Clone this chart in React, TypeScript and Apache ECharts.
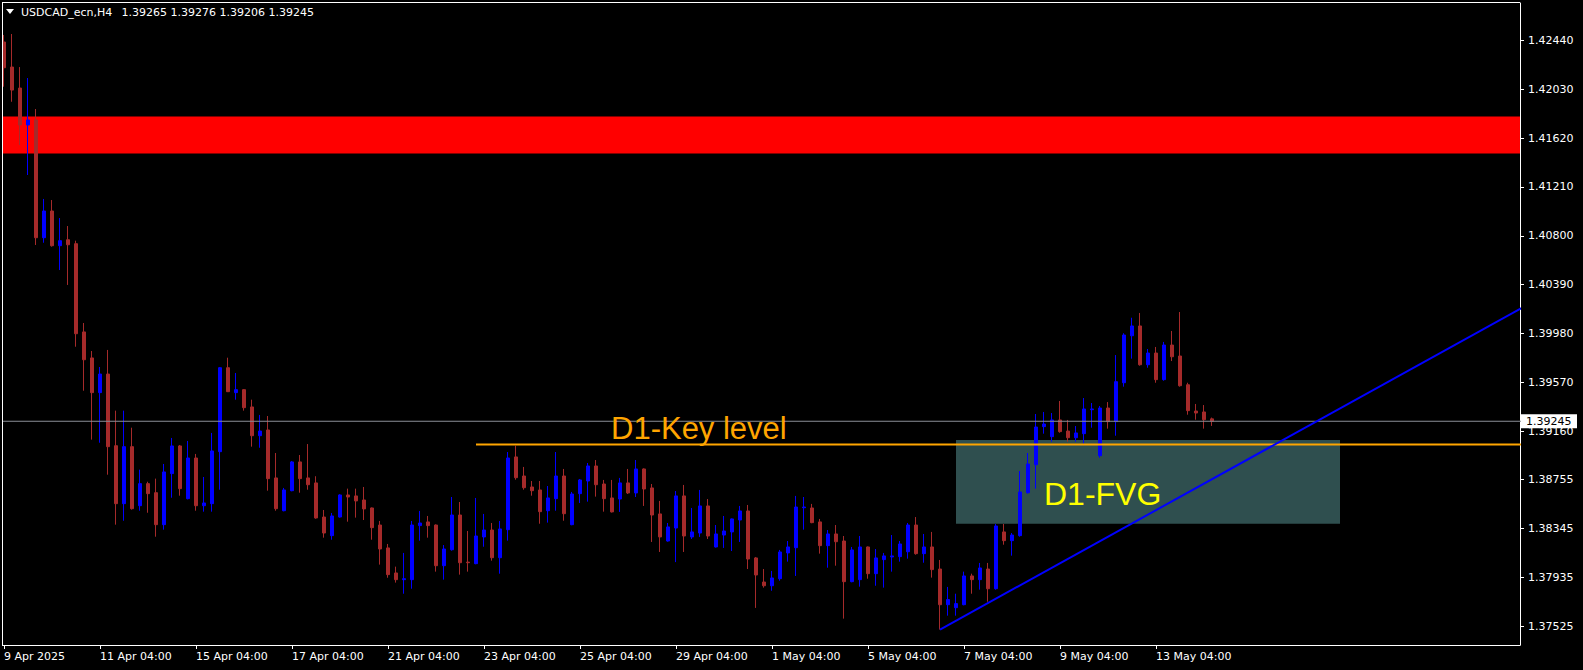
import React, { useEffect, useRef } from "react";
import * as echarts from "echarts";

const tradingDays = [
  "9 Apr", "10 Apr", "11 Apr", "14 Apr", "15 Apr", "16 Apr", "17 Apr", "18 Apr",
  "21 Apr", "22 Apr", "23 Apr", "24 Apr", "25 Apr", "28 Apr", "29 Apr", "30 Apr",
  "1 May", "2 May", "5 May", "6 May", "7 May", "8 May", "9 May", "12 May",
  "13 May", "14 May", "15 May", "16 May", "19 May", "20 May", "21 May", "22 May",
];
const hours = ["00:00", "04:00", "08:00", "12:00", "16:00", "20:00"];
const firstLabel = "9 Apr 2025";

// [open, high, low, close]
const bars: number[][] = [
  [1.42425, 1.42484, 1.4205, 1.42209],
  [1.42215, 1.42492, 1.41924, 1.42022],
  [1.42039, 1.42215, 1.41561, 1.41729],
  [1.41729, 1.42123, 1.4131, 1.41771],
  [1.41771, 1.41863, 1.40723, 1.40784],
  [1.40784, 1.41109, 1.40742, 1.41008],
  [1.41008, 1.411, 1.40709, 1.40717],
  [1.40717, 1.40949, 1.40513, 1.40759],
  [1.40767, 1.40882, 1.40388, 1.40725],
  [1.40734, 1.40759, 1.3987, 1.39979],
  [1.39994, 1.40069, 1.39501, 1.39761],
  [1.39776, 1.39834, 1.39091, 1.39485],
  [1.39485, 1.397, 1.39065, 1.39641],
  [1.39641, 1.39843, 1.38797, 1.39032],
  [1.3904, 1.39334, 1.38378, 1.38554],
  [1.38554, 1.39334, 1.38411, 1.39032],
  [1.39032, 1.39191, 1.38504, 1.38512],
  [1.38537, 1.38839, 1.38495, 1.38722],
  [1.38722, 1.38738, 1.38478, 1.38638],
  [1.38646, 1.38764, 1.38277, 1.38378],
  [1.38378, 1.38887, 1.38336, 1.3882],
  [1.38806, 1.39105, 1.38604, 1.39038],
  [1.39038, 1.39046, 1.38621, 1.3868],
  [1.38596, 1.3908, 1.3859, 1.38937],
  [1.38937, 1.38971, 1.38495, 1.38537],
  [1.38537, 1.38778, 1.38487, 1.3856],
  [1.38554, 1.39147, 1.38487, 1.38996],
  [1.3899, 1.397, 1.38671, 1.39694],
  [1.39694, 1.39778, 1.3949, 1.39493],
  [1.39485, 1.3965, 1.39426, 1.3951],
  [1.3951, 1.39515, 1.39334, 1.39359],
  [1.39365, 1.39426, 1.39032, 1.39124],
  [1.39124, 1.39298, 1.39023, 1.39163],
  [1.39172, 1.39289, 1.38663, 1.38764],
  [1.3877, 1.38979, 1.38495, 1.38512],
  [1.38495, 1.38686, 1.3849, 1.38669],
  [1.38663, 1.38912, 1.38658, 1.38904],
  [1.38904, 1.38962, 1.38646, 1.38764],
  [1.3877, 1.39054, 1.38671, 1.38713],
  [1.38728, 1.38784, 1.38428, 1.38434],
  [1.38442, 1.38501, 1.38269, 1.38308],
  [1.38286, 1.38476, 1.38252, 1.38451],
  [1.38442, 1.38633, 1.38437, 1.38627],
  [1.38627, 1.3868, 1.38403, 1.3861],
  [1.38619, 1.3868, 1.38437, 1.38577],
  [1.38585, 1.38694, 1.38417, 1.3851],
  [1.38518, 1.38522, 1.38252, 1.38353],
  [1.38375, 1.38409, 1.38043, 1.38174],
  [1.38183, 1.38216, 1.37933, 1.37959],
  [1.37973, 1.38026, 1.37892, 1.37917],
  [1.37917, 1.38141, 1.37799, 1.37925],
  [1.37917, 1.38409, 1.37841, 1.38375],
  [1.3837, 1.38493, 1.38244, 1.38392],
  [1.38401, 1.38451, 1.38269, 1.3837],
  [1.38375, 1.3838, 1.37984, 1.38034],
  [1.38034, 1.38207, 1.37917, 1.38174],
  [1.38168, 1.3861, 1.3816, 1.38459],
  [1.38459, 1.38568, 1.37959, 1.38059],
  [1.38064, 1.38325, 1.37984, 1.38059],
  [1.38051, 1.38602, 1.38046, 1.38283],
  [1.38275, 1.38468, 1.38193, 1.38333],
  [1.38333, 1.38392, 1.38076, 1.38101],
  [1.38101, 1.38409, 1.37967, 1.38342],
  [1.38336, 1.38987, 1.38244, 1.38937],
  [1.38946, 1.3904, 1.38755, 1.38772],
  [1.38786, 1.38862, 1.38671, 1.38688],
  [1.38694, 1.38744, 1.38621, 1.38663],
  [1.38669, 1.38744, 1.38386, 1.38487],
  [1.38495, 1.38702, 1.38395, 1.38602],
  [1.38596, 1.38987, 1.38495, 1.38786],
  [1.38786, 1.38845, 1.38411, 1.3847],
  [1.38378, 1.38652, 1.38373, 1.38635],
  [1.38638, 1.38761, 1.3856, 1.38753],
  [1.38744, 1.38895, 1.38571, 1.3887],
  [1.3887, 1.3892, 1.38613, 1.38713],
  [1.38719, 1.38753, 1.38487, 1.38596],
  [1.38602, 1.38753, 1.3848, 1.38485],
  [1.38593, 1.3877, 1.38485, 1.38728],
  [1.38728, 1.38845, 1.38635, 1.38644],
  [1.38644, 1.3892, 1.3861, 1.38845],
  [1.38845, 1.3885, 1.38535, 1.38677],
  [1.38686, 1.38719, 1.38233, 1.38459],
  [1.38468, 1.38577, 1.38149, 1.38275],
  [1.38241, 1.38392, 1.38236, 1.38359],
  [1.3835, 1.3866, 1.38064, 1.38619],
  [1.38619, 1.38711, 1.38149, 1.38283],
  [1.38275, 1.38518, 1.38258, 1.38317],
  [1.38308, 1.38669, 1.38275, 1.38535],
  [1.38535, 1.38593, 1.38258, 1.38283],
  [1.38191, 1.38375, 1.38186, 1.383],
  [1.38291, 1.38451, 1.38183, 1.38325],
  [1.38317, 1.3843, 1.38157, 1.38426],
  [1.38417, 1.38535, 1.38233, 1.38493],
  [1.38493, 1.38543, 1.38006, 1.3809],
  [1.38099, 1.38107, 1.3768, 1.37956],
  [1.37897, 1.38006, 1.3785, 1.37866],
  [1.37866, 1.3799, 1.37824, 1.37931],
  [1.37925, 1.38166, 1.37908, 1.38149],
  [1.38141, 1.38241, 1.38068, 1.38191],
  [1.38185, 1.38619, 1.37948, 1.38526],
  [1.3852, 1.3861, 1.38336, 1.38526],
  [1.38518, 1.38552, 1.3839, 1.38395],
  [1.38401, 1.38426, 1.38135, 1.38202],
  [1.38202, 1.38333, 1.38017, 1.383],
  [1.383, 1.38375, 1.38034, 1.38235],
  [1.38241, 1.38283, 1.3759, 1.379],
  [1.379, 1.38191, 1.37895, 1.38166],
  [1.37917, 1.38283, 1.37858, 1.38191],
  [1.38191, 1.38195, 1.37925, 1.37967],
  [1.37967, 1.38174, 1.37866, 1.38099],
  [1.38085, 1.38141, 1.3785, 1.38116],
  [1.38107, 1.38291, 1.37984, 1.38116],
  [1.3811, 1.38241, 1.38068, 1.38216],
  [1.38151, 1.38392, 1.38093, 1.38375],
  [1.38375, 1.38442, 1.38126, 1.38135],
  [1.38135, 1.383, 1.38059, 1.38191],
  [1.38191, 1.38317, 1.37934, 1.38001],
  [1.38006, 1.38082, 1.37498, 1.37707],
  [1.37707, 1.37856, 1.37615, 1.3775],
  [1.37682, 1.37799, 1.37615, 1.37716],
  [1.37707, 1.37984, 1.37702, 1.37948],
  [1.37948, 1.37967, 1.37799, 1.37917],
  [1.37917, 1.38057, 1.37833, 1.38015],
  [1.38006, 1.38057, 1.37732, 1.37841],
  [1.37841, 1.38384, 1.37833, 1.38367],
  [1.38317, 1.38384, 1.3821, 1.38244],
  [1.38244, 1.38308, 1.38118, 1.38291],
  [1.38286, 1.38828, 1.38277, 1.38652],
  [1.38646, 1.38979, 1.38638, 1.38887],
  [1.38881, 1.39306, 1.3868, 1.39197],
  [1.392, 1.39323, 1.39141, 1.39222],
  [1.39116, 1.39314, 1.39074, 1.39256],
  [1.39256, 1.39415, 1.39149, 1.39158],
  [1.39163, 1.39256, 1.39074, 1.39107],
  [1.39107, 1.39205, 1.39074, 1.39147],
  [1.39141, 1.3944, 1.39057, 1.39348],
  [1.39342, 1.39398, 1.39191, 1.39348],
  [1.38956, 1.39373, 1.3894, 1.39356],
  [1.39356, 1.39406, 1.39183, 1.39242],
  [1.39242, 1.398, 1.39124, 1.39577],
  [1.39568, 1.39983, 1.39535, 1.39968],
  [1.39962, 1.40113, 1.3977, 1.40044],
  [1.40044, 1.40153, 1.39711, 1.39719],
  [1.39719, 1.39851, 1.39694, 1.39817],
  [1.39817, 1.39868, 1.39568, 1.39594],
  [1.39594, 1.3991, 1.39585, 1.39884],
  [1.39884, 1.40002, 1.3975, 1.39786],
  [1.39792, 1.40161, 1.39535, 1.39543],
  [1.39551, 1.39568, 1.393, 1.39334],
  [1.39331, 1.3939, 1.39258, 1.39314],
  [1.39323, 1.39381, 1.39183, 1.39258],
  [1.39265, 1.39276, 1.39206, 1.39245],
];

const priceTicks = [
  1.37525, 1.37935, 1.38345, 1.38755, 1.3916, 1.3957, 1.3998,
  1.4039, 1.408, 1.4121, 1.4162, 1.4203, 1.4244,
];
const priceMin = 1.37369;
const priceMax = 1.42752;
const bidPrice = 1.39245;
const headerSymbol = "USDCAD_ecn,H4";
const headerValues = "1.39265 1.39276 1.39206 1.39245";

const redZone = [1.418, 1.4149];
const keyLevelPrice = 1.3905;
const keyLevelStart = 59;
const keyLevelLabel = "D1-Key level";
const keyLevelLabelAt = [76, 1.39185];
const fvgFrom = 119;
const fvgTo = 167;
const fvgTop = 1.39088;
const fvgBottom = 1.38386;
const fvgLabel = "D1-FVG";
const fvgLabelAt = [129.5, 1.38638];
const trendStart = [117, 1.37498];
const trendEnd = [190, 1.40206];

const TOTAL_SLOTS = 190;
const FONT = "DejaVu Sans";

export default function App() {
  const ref = useRef<HTMLDivElement>(null);

  useEffect(() => {
    if (!ref.current) return;
    document.body.style.margin = "0";
    document.body.style.background = "#000";
    const chart = echarts.init(ref.current, undefined, { renderer: "svg" });

    const all: string[] = [];
    tradingDays.forEach((d) => hours.forEach((h) => all.push(`${d} ${h}`)));
    const categories = all.slice(1, 1 + TOTAL_SLOTS);
    const showIdx = (i: number) => i % 12 === 0 && i < bars.length;

    chart.setOption({
      animation: false,
      backgroundColor: "#000000",
      grid: { left: 0, top: 3, width: TOTAL_SLOTS * 8, height: 642, containLabel: false },
      xAxis: {
        type: "category",
        data: categories,
        boundaryGap: true,
        axisLine: { show: true, lineStyle: { color: "#ffffff", width: 1 } },
        axisTick: {
          show: true,
          alignWithLabel: true,
          interval: (i: number) => showIdx(i),
          length: 4,
          lineStyle: { color: "#ffffff" },
        },
        axisLabel: {
          show: true,
          interval: (i: number) => showIdx(i),
          formatter: (v: string, i: number) => (i === 0 ? firstLabel : v),
          color: "#ffffff",
          fontFamily: FONT,
          fontSize: 11,
          align: "left",
          margin: 6,
        },
        splitLine: { show: false },
      },
      yAxis: {
        type: "value",
        position: "right",
        min: priceMin,
        max: priceMax,
        scale: true,
        axisLine: { show: true, lineStyle: { color: "#ffffff", width: 1 } },
        axisTick: {
          show: true,
          length: 4,
          lineStyle: { color: "#ffffff" },
          customValues: priceTicks,
        },
        axisLabel: {
          show: true,
          color: "#ffffff",
          fontFamily: FONT,
          fontSize: 11,
          margin: 8,
          customValues: priceTicks,
          formatter: (v: number) => v.toFixed(5),
        },
        splitLine: { show: false },
      },
      series: [
        {
          name: "zones",
          type: "line",
          data: [],
          z: 1,
          silent: true,
          markArea: {
            silent: true,
            data: [
              [
                { yAxis: redZone[0], itemStyle: { color: "#ff0000" } },
                { yAxis: redZone[1] },
              ],
              [
                { coord: [fvgFrom, fvgTop], itemStyle: { color: "#2f4f4f" } },
                { coord: [fvgTo, fvgBottom] },
              ],
            ],
          },
        },
        {
          name: "USDCAD",
          type: "candlestick",
          z: 3,
          barWidth: 4,
          data: bars.map(([o, h, l, c]) => [o, c, l, h]),
          itemStyle: {
            color: "#0000ff",
            color0: "#a52a2a",
            borderColor: "#0000ff",
            borderColor0: "#a52a2a",
            borderWidth: 1,
          },
        },
        {
          name: "bid",
          type: "line",
          z: 4,
          clip: true,
          symbol: "none",
          silent: true,
          data: [
            [-1, bidPrice],
            [TOTAL_SLOTS, bidPrice],
          ],
          lineStyle: { color: "#8a8f96", width: 1 },
        },
        {
          name: "keyLevel",
          type: "line",
          z: 5,
          clip: true,
          symbol: "none",
          silent: true,
          data: [
            [keyLevelStart, keyLevelPrice],
            [TOTAL_SLOTS, keyLevelPrice],
          ],
          lineStyle: { color: "#ffa500", width: 2 },
        },
        {
          name: "trend",
          type: "line",
          z: 6,
          clip: true,
          symbol: "none",
          silent: true,
          data: [trendStart, trendEnd],
          lineStyle: { color: "#0000ff", width: 2 },
        },
      ],
    });

    const kl = chart.convertToPixel({ gridIndex: 0 }, keyLevelLabelAt) as number[];
    const fl = chart.convertToPixel({ gridIndex: 0 }, fvgLabelAt) as number[];
    const bid = chart.convertToPixel({ gridIndex: 0 }, [TOTAL_SLOTS - 1, bidPrice]) as number[];

    chart.setOption({
      graphic: [
        { type: "rect", id: "leftMask", shape: { x: 0, y: 0, width: 2, height: 670 }, style: { fill: "#000" }, z: 50 },
        { type: "line", id: "leftLine", shape: { x1: 2.5, y1: 2, x2: 2.5, y2: 645 }, style: { stroke: "#fff", lineWidth: 1 }, z: 51 },
        { type: "line", id: "topLine", shape: { x1: 2, y1: 2.5, x2: 1520, y2: 2.5 }, style: { stroke: "#fff", lineWidth: 1 }, z: 51 },
        { type: "polygon", id: "tri", shape: { points: [[6, 9], [14, 9], [10, 14]] }, style: { fill: "#fff" }, z: 52 },
        {
          type: "text", id: "hdr1", x: 21, y: 12, z: 52,
          style: { text: headerSymbol, fill: "#fff", font: `11px "${FONT}"`, verticalAlign: "middle", align: "left" },
        },
        {
          type: "text", id: "hdr2", x: 121.5, y: 12, z: 52,
          style: { text: headerValues, fill: "#fff", font: `11px "${FONT}"`, verticalAlign: "middle", align: "left" },
        },
        {
          type: "rect", id: "bidBox", z: 60,
          shape: { x: 1521, y: bid[1] - 7, width: 56, height: 14 },
          style: { fill: "#ffffff" },
        },
        {
          type: "text", id: "bidText", x: 1526, y: bid[1], z: 61,
          style: { text: bidPrice.toFixed(5), fill: "#000", font: `11px "${FONT}"`, verticalAlign: "middle", align: "left" },
        },
        {
          type: "text", id: "klText", x: kl[0] - 1, y: kl[1], z: 40,
          style: { text: keyLevelLabel, fill: "#ffa500", font: `31px "Liberation Sans"`, verticalAlign: "middle", align: "left" },
        },
        {
          type: "text", id: "fvgText", x: fl[0], y: fl[1], z: 40,
          style: { text: fvgLabel, fill: "#ffff00", font: `32px "Liberation Sans"`, verticalAlign: "middle", align: "left" },
        },
      ],
    });

    return () => chart.dispose();
  }, []);

  return (
    <div
      ref={ref}
      style={{ position: "absolute", left: 0, top: 0, width: 1583, height: 670, background: "#000" }}
    />
  );
}
